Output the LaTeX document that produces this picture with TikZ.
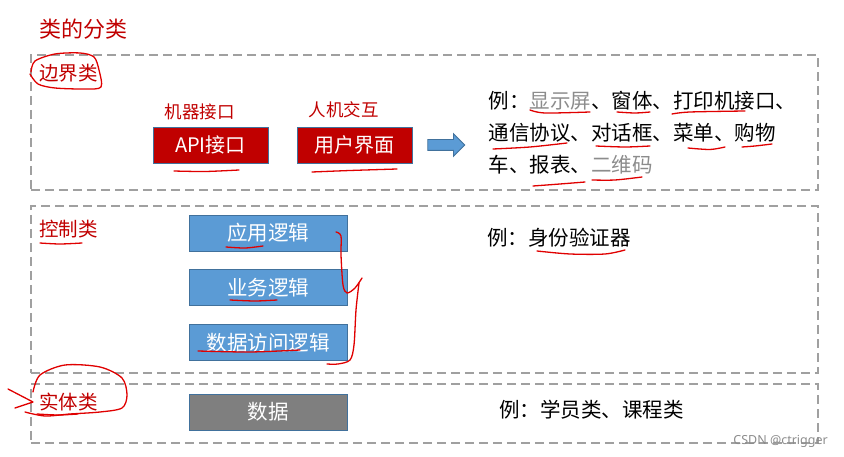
\documentclass[tikz,border=0pt]{standalone}
\usepackage{fontspec}
\setmainfont{Noto Sans CJK SC}
\newfontfamily\wmfont{Noto Sans}
\usetikzlibrary{positioning, shapes.arrows}
\definecolor{dunkelrot}{HTML}{C00000}
\definecolor{himmel}{HTML}{5B9BD5}
\definecolor{stahl}{HTML}{41719C}
\definecolor{schiefer}{HTML}{7F7F7F}
\definecolor{rahmen}{HTML}{A0A0A0}
\definecolor{tinte}{HTML}{E00000}
\definecolor{blass}{HTML}{8C8C8C}

\begin{document}
\begin{tikzpicture}[x=1pt, y=-1pt,
      bereich/.style={draw=rahmen, dash pattern=on 9pt off 5pt, line width=1.6pt,
        minimum width=787, anchor=north west, inner sep=0pt},
      titel/.style={text=dunkelrot, font=\fontsize{22}{26}\selectfont, inner sep=0pt},
      klasse/.style={text=dunkelrot, font=\fontsize{19.5}{23}\selectfont, inner sep=0pt},
      hinweis/.style={text=dunkelrot, font=\fontsize{17.5}{21}\selectfont, inner sep=0pt},
      rotbox/.style={draw=stahl, line width=0.8pt, fill=dunkelrot, text=white,
        font=\fontsize{20}{24}\selectfont, minimum width=115, minimum height=36, inner sep=0pt},
      blaubox/.style={draw=stahl, line width=0.8pt, fill=himmel, text=white,
        font=\fontsize{20.5}{24}\selectfont, minimum width=158, minimum height=36, inner sep=0pt},
      graubox/.style={blaubox, fill=schiefer},
      beispiel/.style={text=black, font=\fontsize{20.5}{32}\selectfont, align=left, inner sep=0pt},
      pfeil/.style={single arrow, draw=stahl, line width=0.8pt, fill=himmel,
        minimum height=37, minimum width=22, single arrow head extend=6pt,
        single arrow head indent=0pt, inner sep=5pt},
      stift/.style={draw=tinte, line width=1.3pt, line cap=round, line join=round}]
    \useasboundingbox (0,0) rectangle (844,457);
    % Bereiche
    \node[bereich, minimum height=135] (rand) at (30,54) {};
    \node[bereich, minimum height=167] (steuer) at (30,205) {};
    \node[bereich, minimum height=59] (entit) at (30,383) {};
    \node[titel, anchor=west] (kopf) at (39,29) {类的分类};
    \node[klasse, anchor=west] (randk) at (39,73) {边界类};
    \node[klasse, anchor=west] (steuerk) at (39,229) {控制类};
    \node[klasse, anchor=west] (entitk) at (39,402) {实体类};
    % Boundary
    \node[rotbox] (api) at (210.5,145) {API接口};
    \node[rotbox] (gui) at (354.5,145) {用户界面};
    \node[hinweis, above=6pt of api, xshift=-11pt] (maschine) {机器接口};
    \node[hinweis, above=8pt of gui, xshift=-11pt] (mensch) {人机交互};
    \node[pfeil, right=15pt of gui] (zeiger) {};
    \node[beispiel, right=23pt of zeiger.east, anchor=west, yshift=12pt] (bsprand)
      {例：\textcolor{blass}{显示屏}、窗体、打印机接口、\\通信协议、对话框、菜单、购物\\车、报表、\textcolor{blass}{二维码}};
    % Control
    \node[blaubox] (anwend) at (268,233) {应用逻辑};
    \node[blaubox, below=18pt of anwend] (geschaeft) {业务逻辑};
    \node[blaubox, below=18pt of geschaeft] (zugriff) {数据访问逻辑};
    \node[beispiel, anchor=west] (bspsteuer) at (487,238) {例：身份验证器};
    % Entity
    \node[graubox] (daten) at (268,412) {数据};
    \node[beispiel, anchor=west] (bspentit) at (499,410) {例：学员类、课程类};
    \node[text=blass, font=\wmfont\fontsize{12.5}{15}\selectfont, anchor=east, inner sep=0pt] (marke) at (828,441) {CSDN @ctrigger};
    % Handschrift
    \draw[stift] plot[smooth] coordinates {(31,72) (35,61) (55,54) (80,53) (94,57) (99,70) (101,87) (85,89) (55,88) (38,84) (30,74)};
    \draw[stift] plot[smooth] coordinates {(174,171) (205,171.5) (239,170)};
    \draw[stift] plot[smooth] coordinates {(312,172) (350,170.5) (397,169)};
    \draw[stift] plot[smooth] coordinates {(530,110) (545,113) (590,112)};
    \draw[stift] plot[smooth] coordinates {(617,112) (635,113) (650,112)};
    \draw[stift] plot[smooth] coordinates {(672,114) (690,112) (745,111)};
    \draw[stift] plot[smooth] coordinates {(493,149) (530,147) (567,143)};
    \draw[stift] plot[smooth] coordinates {(596,146) (625,147) (650,146)};
    \draw[stift] plot[smooth] coordinates {(688,148) (710,149.5) (725,147)};
    \draw[stift] plot[smooth] coordinates {(742,147) (755,146) (772,144)};
    \draw[stift] plot[smooth] coordinates {(533,186) (560,184) (585,182)};
    \draw[stift] plot[smooth] coordinates {(592,180) (615,180) (642,177)};
    \draw[stift] plot[smooth] coordinates {(537,251) (570,254) (605,254) (625,250)};
    \draw[stift] plot[smooth] coordinates {(40,243) (60,244) (82,243)};
    \draw[stift] plot[smooth] coordinates {(226,247) (245,248) (263,246)};
    \draw[stift] plot[smooth] coordinates {(230,300) (255,301) (277,300)};
    \draw[stift] plot[smooth] coordinates {(198,351) (250,352) (300,350)};
    \draw[stift] plot[smooth] coordinates {(336,232) (341,236) (341,255) (343,285) (347,293) (355,288) (362,278)};
    \draw[stift] plot[smooth] coordinates {(359,283) (356,310) (354,345) (350,360) (338,364) (327,364)};
    \draw[stift] plot[smooth] coordinates {(33,392) (40,375) (65,365) (100,367) (122,378) (127,395) (122,408) (100,412) (70,414) (45,416) (25,412)};
    \draw[stift] (8,389) -- (33,402) -- (15,408);
    \draw[stift] plot[smooth] coordinates {(37,414) (58,415) (78,414)};
  \end{tikzpicture}
\end{document}
